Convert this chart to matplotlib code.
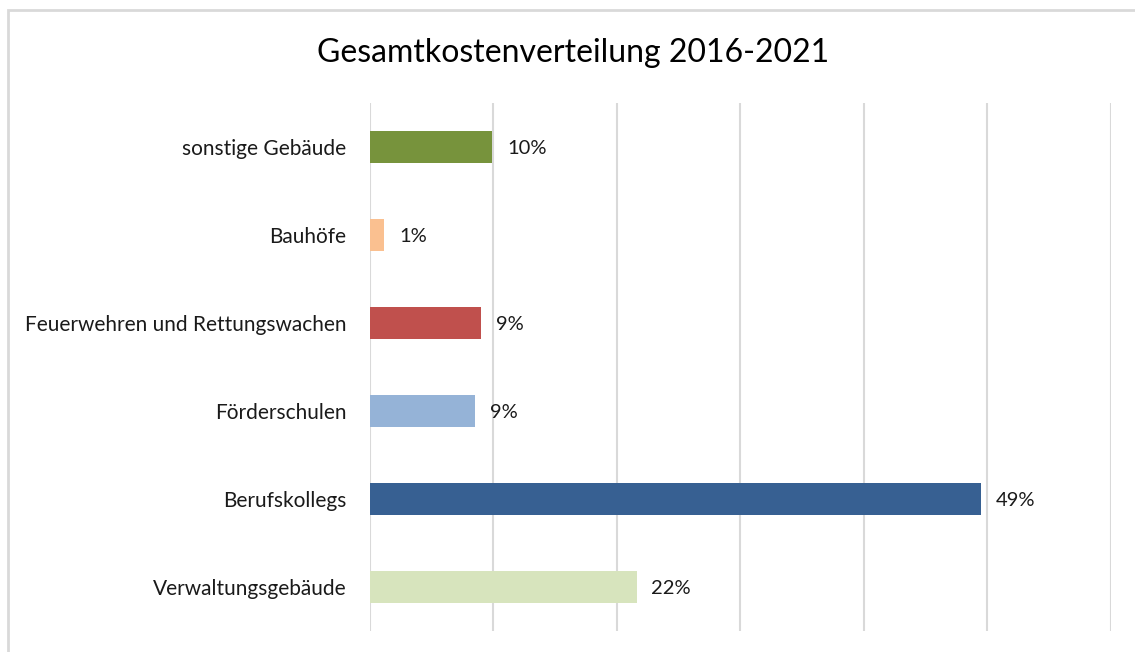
import matplotlib
matplotlib.use("Agg")
import matplotlib.pyplot as plt
from matplotlib.patches import Rectangle

categories = ["Verwaltungsgebäude", "Berufskollegs", "Förderschulen",
              "Feuerwehren und Rettungswachen", "Bauhöfe", "sonstige Gebäude"]
values = [21.6, 49.5, 8.5, 9.0, 1.15, 9.9]
labels = ["22%", "49%", "9%", "9%", "1%", "10%"]
colors = ["#D7E4BD", "#376092", "#95B3D7", "#C0504D", "#FAC090", "#77933C"]

plt.rcParams['font.family'] = ['Lato', 'DejaVu Sans']

W, H = 1135, 652
fig = plt.figure(figsize=(W / 100, H / 100), dpi=100)
ax = fig.add_axes([370 / W, 1 - 631 / H, (1110.7 - 370) / W, (631 - 103) / H])

y = range(len(categories))
ax.barh(y, values, height=0.36, color=colors, zorder=3)
for i, (v, lab) in enumerate(zip(values, labels)):
    ax.text(v + 1.2, i, lab, va='center_baseline', ha='left', fontsize=14.5, color='#1a1a1a')

ax.set_xlim(0, 60)
ax.set_ylim(-0.5, len(categories) - 0.5)
ax.set_xticks(range(0, 61, 10))
ax.set_xticklabels([])
ax.tick_params(axis='x', length=0)
ax.set_yticks(list(y))
ax.set_yticklabels(categories, fontsize=15, color='#1a1a1a')
ax.tick_params(axis='y', length=0, pad=17)
ax.grid(axis='x', color='#D9D9D9', linewidth=1.5, zorder=0)
for s in ax.spines.values():
    s.set_visible(False)

fig.text(0.505, 1 - 53 / H, "Gesamtkostenverteilung 2016-2021", ha='center', va='center',
         fontsize=23, color='#000000')

# light frame around the chart area
fig.patches.append(Rectangle((7.5 / W, -0.1), 1.2, 1 - 9.5 / H + 0.1, transform=fig.transFigure,
                             fill=False, edgecolor='#D9D9D9', linewidth=2, clip_on=False))

fig.savefig("out.png", dpi=100)
